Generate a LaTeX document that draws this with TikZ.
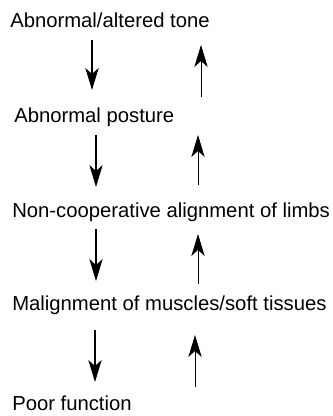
\documentclass[tikz,border=0pt]{standalone}
\usepackage{fontspec}
\setmainfont{Liberation Sans}
\usepackage{tikz}
\usetikzlibrary{arrows.meta}

\begin{document}
\begin{tikzpicture}[
    x=0.75pt, y=-0.75pt,
    stage/.style={inner sep=0pt, anchor=base west, font=\fontsize{15.2}{18}\selectfont},
    down/.style={line width=0.8pt, -{Stealth[length=16.5pt, width=10pt, inset=4.5pt]}},
    up/.style={line width=0.7pt, -{Stealth[length=16.5pt, width=10pt, inset=4.5pt]}}
]
    \useasboundingbox (0,0) rectangle (332,416);

    \node (tone) [stage] at (10,28) {Abnormal/altered tone};
    \node (posture) [stage] at (14,123) {Abnormal posture};
    \node (limbs) [stage] at (12,217) {Non-cooperative alignment of limbs};
    \node (muscles) [stage] at (12,310) {Malignment of muscles/soft tissues};
    \node (function) [stage] at (12,410) {Poor function};

    % arrow ends: name/x/top/bottom
    \foreach \n/\x/\ya/\yb in {a/92/40/90, b/96/135/187, c/96/229/281, d/95/330/382}
        {\coordinate (\n top) at (\x,\ya); \coordinate (\n bot) at (\x,\yb);}
    \foreach \n/\x/\ya/\yb in {e/201/45/97, f/198/135/185, g/198/234/284, h/195/335/387}
        {\coordinate (\n top) at (\x,\ya); \coordinate (\n bot) at (\x,\yb);}

    \draw [down] (atop) -- (abot);
    \draw [down] (btop) -- (bbot);
    \draw [down] (ctop) -- (cbot);
    \draw [down] (dtop) -- (dbot);
    \draw [up] (ebot) -- (etop);
    \draw [up] (fbot) -- (ftop);
    \draw [up] (gbot) -- (gtop);
    \draw [up] (hbot) -- (htop);
\end{tikzpicture}
\end{document}
